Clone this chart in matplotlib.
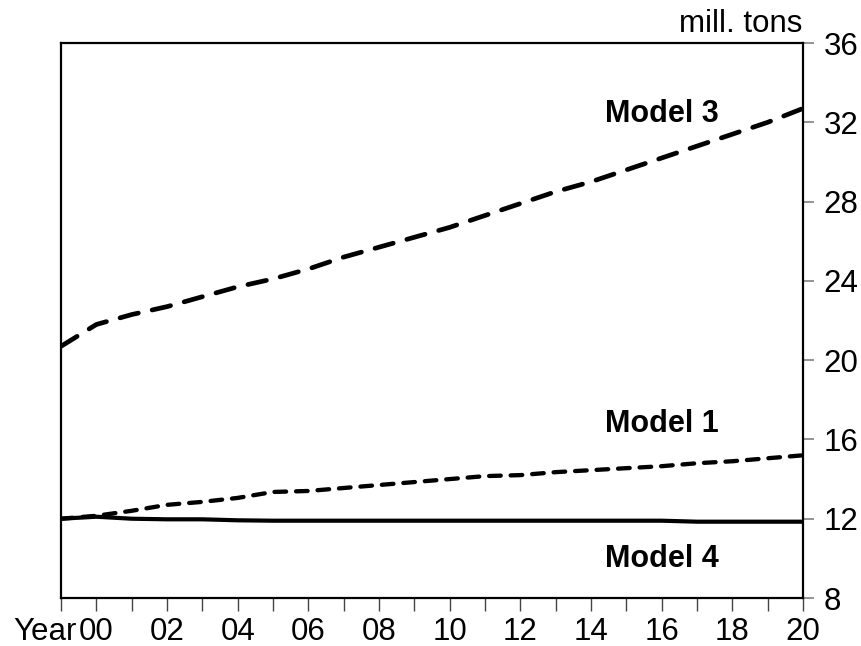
import numpy as np
import matplotlib.pyplot as plt

years = list(range(1999, 2021))
model3 = [20.7, 21.8, 22.3, 22.7, 23.2, 23.7, 24.1, 24.6, 25.2, 25.7, 26.2,
          26.7, 27.3, 27.9, 28.5, 29.0, 29.6, 30.2, 30.8, 31.4, 32.0, 32.7]
model1 = [12.0, 12.15, 12.4, 12.7, 12.85, 13.05, 13.35, 13.4, 13.55, 13.7, 13.85,
          14.0, 14.15, 14.2, 14.35, 14.45, 14.55, 14.65, 14.8, 14.9, 15.05, 15.2]
model4 = [12.0, 12.1, 12.0, 11.97, 11.97, 11.92, 11.9, 11.9, 11.9, 11.9, 11.9,
          11.9, 11.9, 11.9, 11.9, 11.9, 11.9, 11.9, 11.85, 11.85, 11.85, 11.85]
yticks = [8, 12, 16, 20, 24, 28, 32, 36]
xlabels = ['' if y % 2 else '%02d' % (y % 100) for y in years]

plt.rcParams['font.family'] = ['Liberation Sans', 'DejaVu Sans']
fs = 22.5

if __name__ == '__main__':
    fig = plt.figure(figsize=(8.62, 6.46), dpi=100)
    ax = fig.add_axes([0.0708, 0.0743, 0.8608, 0.8591])

    ax.plot(years, model3, color='black', lw=3.4, linestyle=(0, (4.0, 3.0)),
            dash_capstyle='round', solid_capstyle='round')
    ax.plot(years, model1, color='black', lw=3.1, linestyle=(0, (2.7, 2.3)),
            dash_capstyle='round')
    ax.plot(years, model4, color='black', lw=3.0, solid_capstyle='round')

    ax.set_xlim(1999, 2020)
    ax.set_ylim(8, 36)
    ax.set_xticks(years)
    ax.set_xticklabels(xlabels, fontsize=fs)
    ax.set_yticks(yticks)
    ax.set_yticklabels([str(v) for v in yticks], fontsize=fs)
    ax.yaxis.tick_right()
    ax.tick_params(axis='x', direction='out', length=9.5, width=1.0, color='#444444', pad=4)
    ax.tick_params(axis='y', direction='out', length=8, width=1.2, color='#808080', pad=7)
    for s in ax.spines.values():
        s.set_linewidth(1.6)

    ax.annotate('Year', xy=(1999.45, 0), xycoords=('data', 'axes fraction'),
                xytext=(0, -13.5), textcoords='offset points',
                ha='right', va='top', fontsize=fs)
    fig.text(802 / 862, 1 - 32 / 646, 'mill. tons', ha='right', va='baseline', fontsize=fs)

    ax.text(2016, 32.0, 'Model 3', ha='center', va='baseline', fontsize=22, fontweight='bold')
    ax.text(2016, 16.37, 'Model 1', ha='center', va='baseline', fontsize=22, fontweight='bold')
    ax.text(2016, 9.56, 'Model 4', ha='center', va='baseline', fontsize=22, fontweight='bold')

    fig.savefig('out.png', dpi=100)
